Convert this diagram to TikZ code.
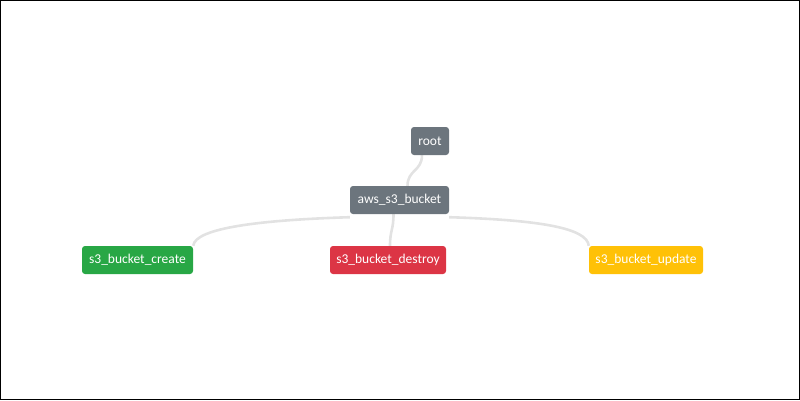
\documentclass[tikz,border=0pt]{standalone}
\usepackage{fontspec}
\setmainfont{Carlito}
\usetikzlibrary{backgrounds}

\definecolor{bsgray}{HTML}{6C757D}
\definecolor{bsgreen}{HTML}{28A745}
\definecolor{bsred}{HTML}{DC3545}
\definecolor{bsyellow}{HTML}{FFC107}
\definecolor{edgegray}{HTML}{E2E2E2}

\tikzset{
  res/.style={rounded corners=3pt, text=white, minimum height=28pt,
    inner sep=0pt, font=\fontsize{13.5}{15}\selectfont},
  link/.style={draw=edgegray, line width=2.6pt},
}

\begin{document}
\begin{tikzpicture}[x=1pt, y=-1pt]
  \useasboundingbox (0,0) rectangle (800,400);
  \draw[line width=1.2pt] (0.6,0.6) rectangle (799.4,399.4);

  % nodes
  \node[res, fill=bsgray, minimum width=38pt] (root) at (430,141) {root};
  \node[res, fill=bsgray, minimum width=99pt] (bucket) at (399.5,200) {aws\_s3\_bucket};
  \node[res, fill=bsgreen, minimum width=111pt] (create) at (137.5,260) {s3\_bucket\_create};
  \node[res, fill=bsred, minimum width=116pt] (destroy) at (388,260) {s3\_bucket\_destroy};
  \node[res, fill=bsyellow, minimum width=114pt] (update) at (646,260) {s3\_bucket\_update};

  % links
  \begin{scope}[on background layer]
    \draw[link] ([xshift=-8pt]root.south) .. controls ++(0,16) and ++(0,-16) .. ([xshift=8pt]bucket.north);
    \draw[link] ([xshift=-6pt]bucket.south) .. controls ++(0,16) and ++(0,-16) .. ([xshift=2pt]destroy.north);
    \draw[link] ([yshift=-3pt]bucket.south west) .. controls (260,220) and (195,228) .. (create.north east);
    \draw[link] ([yshift=-3pt]bucket.south east) .. controls (540,220) and (587,228) .. (update.north west);
  \end{scope}
\end{tikzpicture}
\end{document}
